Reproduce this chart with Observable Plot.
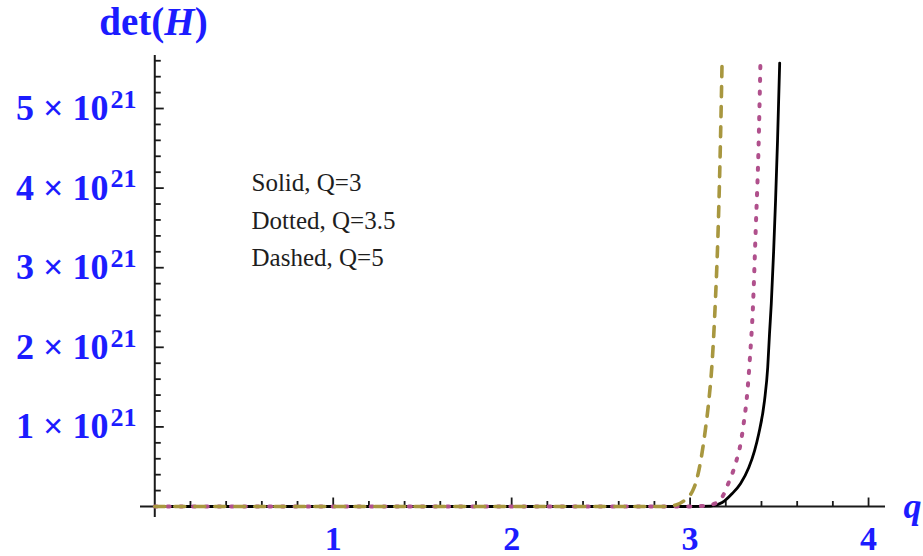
<!DOCTYPE html>
<html>
<head>
<meta charset="utf-8">
<script src="https://cdn.jsdelivr.net/npm/d3@7"></script>
<script src="https://cdn.jsdelivr.net/npm/@observablehq/plot@0.6"></script>
<style>
  html, body { margin: 0; padding: 0; background: #fff; }
</style>
</head>
<body>
<div id="chart"></div>
<script>
// y values are in units of 10^21
const solidQ3 = [
  [0, 0], [3.0, 0], [3.115, 0.005], [3.18, 0.05], [3.236, 0.163], [3.283, 0.29], [3.329, 0.49],
  [3.361, 0.70], [3.385, 0.917], [3.417, 1.33], [3.435, 1.75], [3.445, 2.17], [3.455, 2.55],
  [3.468, 3.2], [3.479, 3.85], [3.49, 4.6], [3.502, 5.57]
];
const dottedQ35 = [
  [0, 0], [3.0, 0], [3.06, 0.005], [3.143, 0.04], [3.19, 0.16], [3.214, 0.29], [3.236, 0.41],
  [3.26, 0.58], [3.283, 0.79], [3.30, 1.04], [3.318, 1.37], [3.335, 1.86], [3.352, 2.5],
  [3.368, 3.5], [3.383, 4.47], [3.394, 5.57]
];
const dashedQ5 = [
  [0, 0], [2.85, 0], [2.92, 0.02], [2.98, 0.10], [3.015, 0.2], [3.036, 0.33], [3.063, 0.62],
  [3.087, 0.99], [3.105, 1.33], [3.124, 1.83], [3.142, 2.6], [3.156, 3.4], [3.166, 4.2],
  [3.174, 5.0], [3.179, 5.57]
];

const xMajorTicks = [1, 2, 3, 4];
const xMinorTicks = [0.2, 0.4, 0.6, 0.8, 1.2, 1.4, 1.6, 1.8, 2.2, 2.4, 2.6, 2.8, 3.2, 3.4, 3.6, 3.8];
const yMajorTicks = [1, 2, 3, 4, 5];
const yMinorTicks = [0.2, 0.4, 0.6, 0.8, 1.2, 1.4, 1.6, 1.8, 2.2, 2.4, 2.6, 2.8, 3.2, 3.4, 3.6, 3.8, 4.2, 4.4, 4.6, 4.8, 5.2, 5.4, 5.6];
const yExponent = "21";
const legendLines = ["Solid, Q=3", "Dotted, Q=3.5", "Dashed, Q=5"];
const xDomain = [-0.08, 4.095];
const yDomain = [-0.138, 5.666];

const axisColor = "#1a1a1a";
const labelColor = "#1c1cff";
const serif = "'Liberation Serif', 'Times New Roman', serif";

const toPts = (arr) => arr.map(([x, y]) => ({x, y}));

const plot = Plot.plot({
  width: 923,
  height: 556,
  marginLeft: 140,
  marginRight: 38,
  marginTop: 55,
  marginBottom: 39,
  x: {domain: xDomain, axis: null},
  y: {domain: yDomain, axis: null},
  style: {background: "#fff", overflow: "visible"},
  marks: [
    // axes
    Plot.ruleY([0], {stroke: axisColor, strokeWidth: 2}),
    Plot.ruleX([0], {stroke: axisColor, strokeWidth: 2}),
    // x ticks (inward, upward)
    Plot.ruleX(xMinorTicks, {x: d => d, y1: 0, y2: 0, insetBottom: 5, stroke: axisColor, strokeWidth: 1.8}),
    Plot.ruleX(xMajorTicks, {x: d => d, y1: 0, y2: 0, insetBottom: 8.5, stroke: axisColor, strokeWidth: 1.8}),
    // y ticks (inward, rightward)
    Plot.ruleY(yMinorTicks, {y: d => d, x1: 0, x2: 0, insetRight: -6.5, stroke: axisColor, strokeWidth: 1.8}),
    Plot.ruleY(yMajorTicks, {y: d => d, x1: 0, x2: 0, insetRight: -9.5, stroke: axisColor, strokeWidth: 1.8}),
    // curves
    Plot.line(toPts(solidQ3), {x: "x", y: "y", stroke: "#000", strokeWidth: 2.8, curve: "monotone-x"}),
    Plot.line(toPts(dottedQ35), {x: "x", y: "y", stroke: "#b0508c", strokeWidth: 4, strokeDasharray: "2.2,10.5", curve: "monotone-x"}),
    Plot.line(toPts(dashedQ5), {x: "x", y: "y", stroke: "#a8973f", strokeWidth: 3.6, strokeDasharray: "10,10", curve: "monotone-x"}),
    // x tick labels
    Plot.text(xMajorTicks, {x: d => d, y: 0, text: d => String(d), dy: 33, lineAnchor: "middle",
      fill: labelColor, fontSize: 34, fontWeight: "bold", fontFamily: serif}),
    // y tick labels
    Plot.text(yMajorTicks, {y: d => d, frameAnchor: "left", dx: -32, text: d => `${d} × 10`, textAnchor: "end",
      lineAnchor: "middle", fill: labelColor, fontSize: 36, fontWeight: "bold", fontFamily: serif}),
    Plot.text(yMajorTicks, {y: d => d, frameAnchor: "left", dx: -30, dy: -9, text: () => yExponent, textAnchor: "start",
      lineAnchor: "middle", fill: labelColor, fontSize: 26, fontWeight: "bold", fontFamily: serif}),
    // axis labels
    Plot.text(["q"], {y: 0, frameAnchor: "right", dx: 27, text: d => d, textAnchor: "middle", lineAnchor: "middle",
      fill: labelColor, fontSize: 36, fontWeight: "bold", fontStyle: "italic", fontFamily: serif}),
    Plot.text(["det(H)"], {frameAnchor: "top-left", dx: 13, dy: -21, text: d => d, textAnchor: "middle", lineAnchor: "bottom",
      fill: labelColor, fontSize: 39, fontWeight: "bold", fontFamily: serif}),
    // legend text
    Plot.text([legendLines.join("\n")], {frameAnchor: "top-left", dx: 111, dy: 109, text: d => d, textAnchor: "start",
      lineAnchor: "top", lineHeight: 1.5, fill: "#1e1e1e", fontSize: 25, fontFamily: serif})
  ]
});

document.getElementById("chart").appendChild(plot);

// italic H in det(H)
d3.select(plot).selectAll("text").each(function () {
  const t = d3.select(this);
  const txt = t.text();
  if (txt !== "det(H)") return;
  t.text(null);
  t.append("tspan").text("det(");
  t.append("tspan").attr("font-style", "italic").text("H");
  t.append("tspan").text(")");
});
</script>
</body>
</html>
